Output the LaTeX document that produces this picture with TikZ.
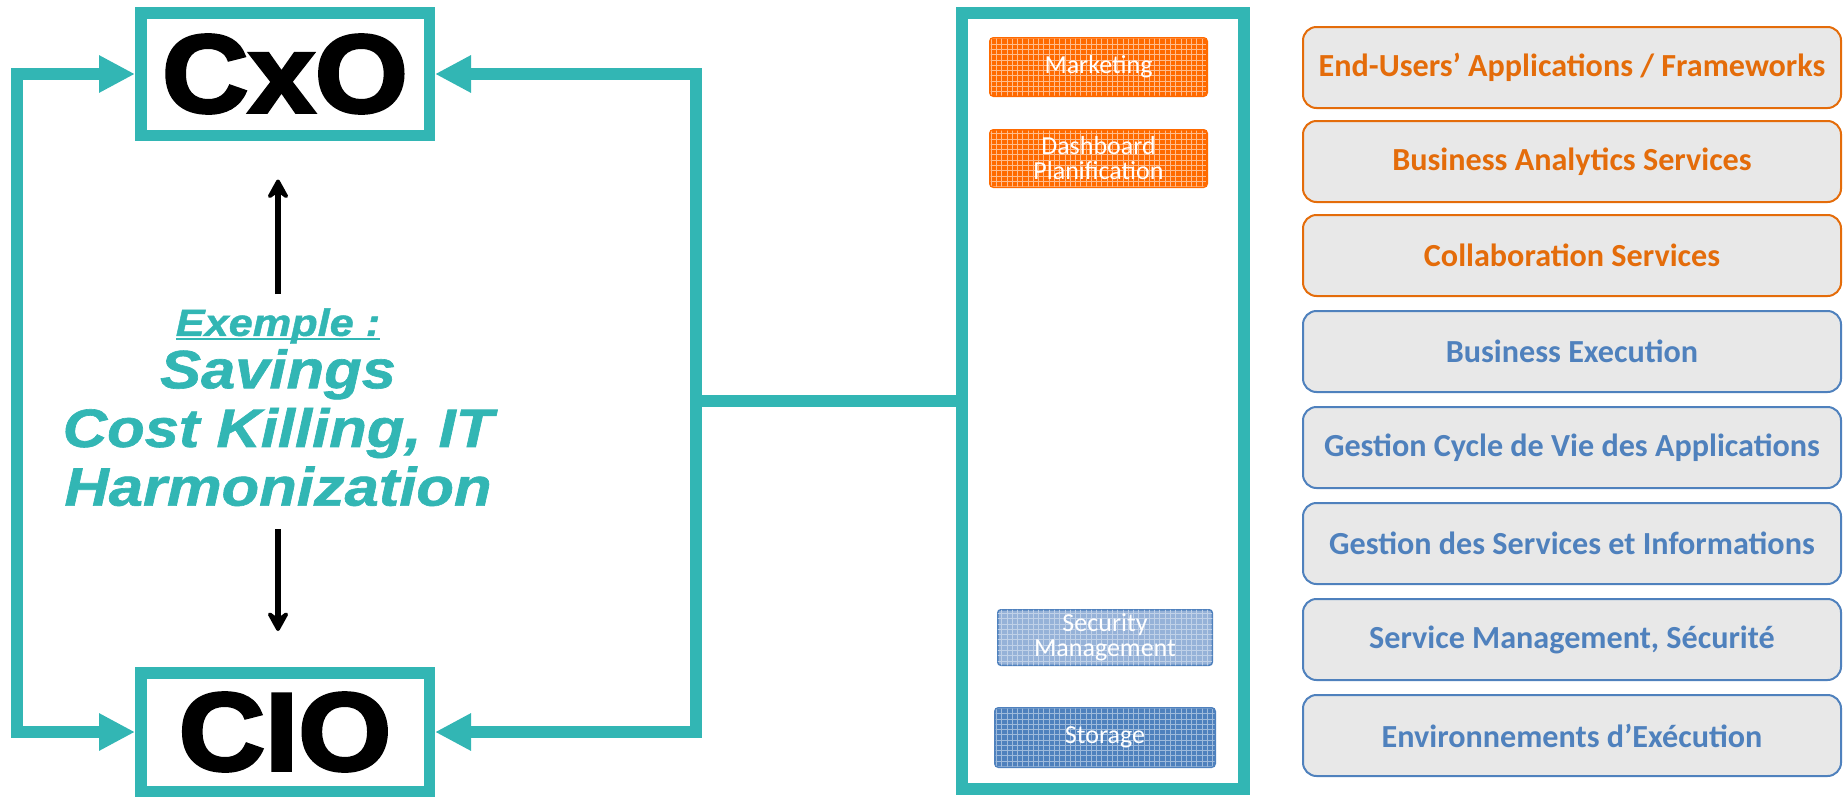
\documentclass[tikz,border=0pt]{standalone}
\usepackage{fontspec}
\usepackage{tikz}
\usetikzlibrary{arrows.meta,patterns}
\newfontfamily\heavyfont{Liberation Sans}[FakeStretch=1.08,BoldFeatures={FakeBold=3}]
\newfontfamily\slogfont{Liberation Sans}[FakeStretch=1.14,BoldItalicFeatures={FakeBold=1.2}]
\newfontfamily\calfont{Carlito}
\newsavebox{\ulbox}
\newcommand{\ulword}[1]{\sbox{\ulbox}{#1}\rlap{\rule[-2.3pt]{\wd\ulbox}{1.2pt}}\usebox{\ulbox}}
\definecolor{cteal}{RGB}{50,182,180}
\definecolor{corange}{RGB}{228,108,10}
\definecolor{cblue}{RGB}{79,129,189}
\definecolor{cgrey}{RGB}{232,232,232}
\definecolor{tagorange}{RGB}{255,106,0}
\definecolor{taglight}{RGB}{150,178,216}

\begin{document}
\begin{tikzpicture}[
  bigtri/.tip={Triangle[length=0.72cm, width=0.70cm]},
  blktip/.tip={Stealth[length=0.5cm, width=0.55cm, inset=0.2cm, round]},
  rolebox/.style={draw=cteal, line width=0.23cm, inner sep=0,
    font=\heavyfont\bfseries\fontsize{63}{63}\selectfont},
  tealline/.style={draw=cteal, line width=0.23cm},
  slogan/.style={text=cteal, align=center, inner sep=0,
    font=\slogfont\bfseries\itshape\fontsize{30.7}{33.4}\selectfont},
  tag/.style={rounded corners=0.06cm, text=white, align=center, inner sep=0,
    font=\calfont\fontsize{14.8}{14.2}\selectfont},
  layer/.style={draw, line width=0.04cm, rounded corners=0.27cm, fill=cgrey,
    minimum width=10.76cm, minimum height=1.62cm, inner sep=0,
    font=\calfont\bfseries\fontsize{18.3}{20}\selectfont}
]
  \useasboundingbox (0, 0) rectangle (36.86, -15.96);

  \node[rolebox, minimum width=5.77cm, minimum height=2.45cm]
    (cxo) at (5.70, -1.48) {CxO};

  \node[rolebox, minimum width=5.77cm, minimum height=2.37cm]
    (cio) at (5.70, -14.64) {CIO};

  \node[slogan, anchor=north]
    (ex) at (5.56, -6.16) {{\fontsize{21.6}{26}\selectfont\ulword{Exemple :}}\\[-3.6pt]
      Savings\\ Cost Killing, IT\\ Harmonization};

  \node[draw=cteal, line width=0.23cm, minimum width=5.64cm, minimum height=15.52cm]
    (stack) at (22.06, -8.02) {};

  \coordinate (lx) at (0.34, -8.02);
  \coordinate (rx) at (13.92, -8.02);

  % tags in the middle column
  \node[tag, draw=tagorange, fill=tagorange, line width=0.06cm,
    minimum width=4.32cm, minimum height=1.14cm,
    postaction={pattern=grid, pattern color=white!55!tagorange}]
    (mkt) at (21.97, -1.34) {Marketing};

  \node[tag, draw=tagorange, fill=tagorange, line width=0.06cm,
    minimum width=4.32cm, minimum height=1.12cm,
    postaction={pattern=grid, pattern color=white!55!tagorange}]
    (dash) at (21.97, -3.17) {Dashboard\\Planification};

  \node[tag, draw=cblue, fill=taglight, line width=0.03cm,
    minimum width=4.29cm, minimum height=1.11cm,
    postaction={pattern=grid, pattern color=white!40!taglight}]
    (sec) at (22.10, -12.75) {Security\\Management};

  \node[tag, draw=cblue, fill=cblue, line width=0.06cm,
    minimum width=4.38cm, minimum height=1.16cm,
    postaction={pattern=grid, pattern color=white!45!cblue}]
    (stor) at (22.10, -14.75) {Storage};

  % layers on the right
  \node[layer, draw=corange, text=corange]
    (enduser) at (31.44, -1.35) {End-Users’ Applications / Frameworks};
  \node[layer, draw=corange, text=corange]
    (analytics) at (31.44, -3.23) {Business Analytics Services};
  \node[layer, draw=corange, text=corange]
    (collab) at (31.44, -5.11) {Collaboration Services};
  \node[layer, draw=cblue, text=cblue]
    (bizexec) at (31.44, -7.03) {Business Execution};
  \node[layer, draw=cblue, text=cblue]
    (alm) at (31.44, -8.95) {Gestion Cycle de Vie des Applications};
  \node[layer, draw=cblue, text=cblue]
    (gsi) at (31.44, -10.87) {Gestion des Services et Informations};
  \node[layer, draw=cblue, text=cblue]
    (svcmgmt) at (31.44, -12.79) {Service Management, Sécurité};
  \node[layer, draw=cblue, text=cblue]
    (runenv) at (31.44, -14.71) {Environnements d’Exécution};

  \draw[tealline, bigtri-bigtri]
    (cxo.west) -| (lx) |- (cio.west);

  \draw[tealline, bigtri-bigtri]
    (cxo.east) -| (rx) |- (cio.east);

  \draw[tealline]
    (rx) -- (stack);

  \draw[-blktip, line width=0.13cm, shorten <=0.28cm, shorten >=0.77cm]
    (ex.north) -- (ex.north |- cxo.south);

  \draw[-blktip, line width=0.13cm, shorten <=0.46cm, shorten >=0.72cm]
    (ex.south) -- (ex.south |- cio.north);
\end{tikzpicture}
\end{document}
